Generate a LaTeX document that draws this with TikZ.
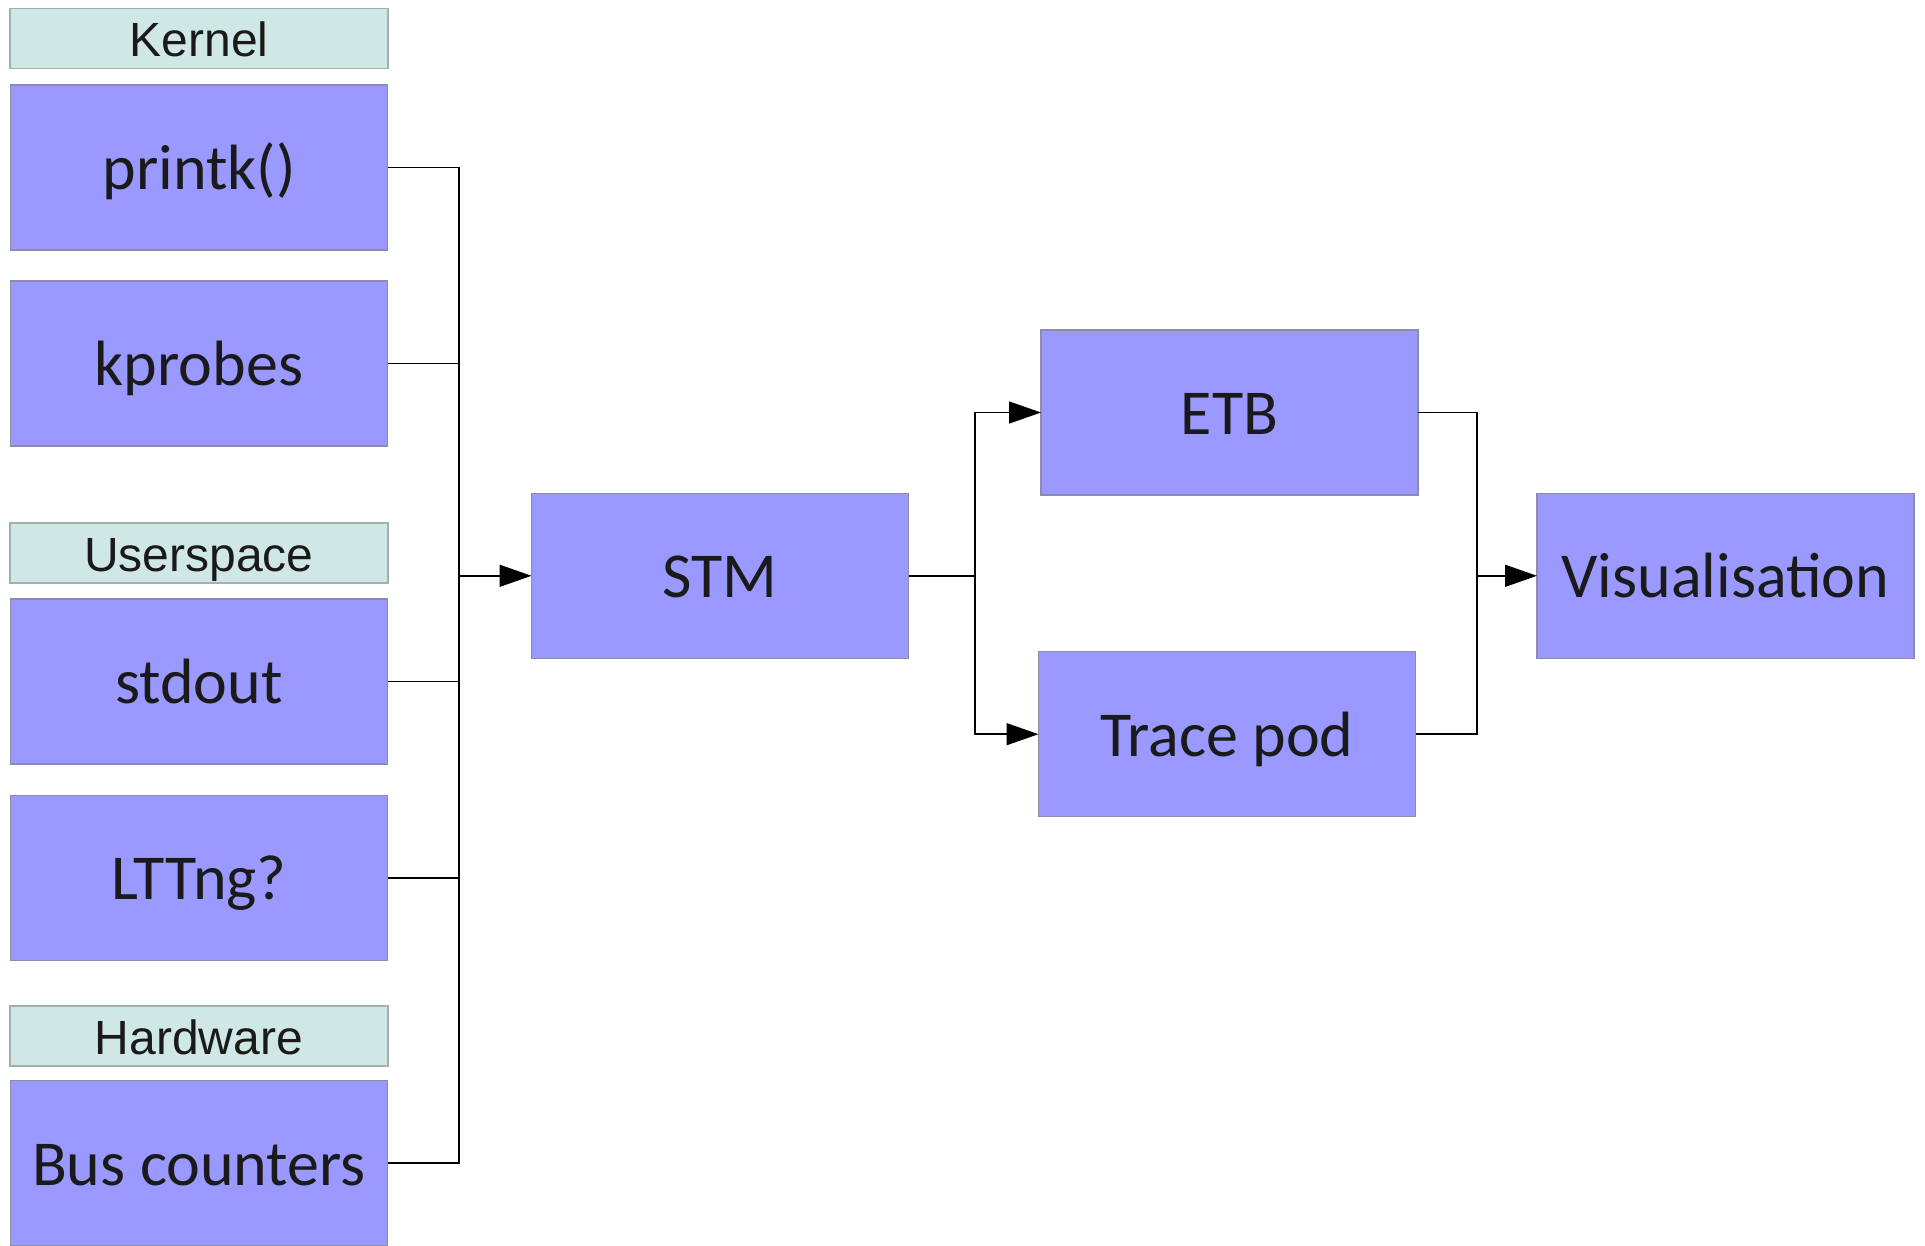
\documentclass[tikz,border=0pt]{standalone}
\usepackage{fontspec}
\setmainfont{Carlito}
\newfontfamily\labelfont{Liberation Sans}
\usetikzlibrary{arrows.meta}

\definecolor{boxfill}{HTML}{9999FF}
\definecolor{boxline}{HTML}{8C8CA8}
\definecolor{tagfill}{HTML}{D0E8E5}
\definecolor{tagline}{HTML}{A6AFAE}
\definecolor{ink}{HTML}{1A1A1A}

\tikzset{
  block/.style={draw=boxline, line width=1.5pt, fill=boxfill, text=ink,
    minimum width=377pt, minimum height=165pt, inner sep=0pt, outer sep=0pt,
    text height=50pt, text depth=6pt,
    font=\fontsize{64pt}{72pt}\selectfont},
  tag/.style={draw=tagline, line width=1.5pt, fill=tagfill, text=ink,
    minimum width=378pt, minimum height=60pt, inner sep=0pt, outer sep=0pt,
    text height=36pt, text depth=0pt,
    font=\labelfont\fontsize{48pt}{54pt}\selectfont},
  wire/.style={draw=black, line width=1.5pt},
  feed/.style={wire, -{Triangle[length=32pt,width=22pt]}}
}

\begin{document}
\begin{tikzpicture}[x=1pt,y=-1pt]
  \useasboundingbox (0,0) rectangle (1925,1246);

  % source groups on the left
  \node[tag]   (kernel)  at (199,38.7)  {Kernel};
  \node[block] (printk)  at (199,167.5) {printk()};
  \node[block] (kprobes) at (199,363.3) {kprobes};
  \node[tag]   (user)    at (199,553)   {Userspace};
  \node[block] (stdout)  at (199,681.3) {stdout};
  \node[block] (lttng)   at (199,877.8) {LTTng?};
  \node[tag]   (hw)      at (199,1036)  {Hardware};
  \node[block] (bus)     at (199,1163)  {Bus counters};

  % pipeline
  \node[block] (stm)  at (720,575.8)    {STM};
  \node[block] (etb)  at (1229.5,412.5) {ETB};
  \node[block] (pod)  at (1227,734.2)   {Trace pod};
  \node[block] (vis)  at (1725.5,575.8) {Visualisation};

  % junction points
  \coordinate (jl) at (459.2,575.8);
  \coordinate (jm) at (974.8,575.8);
  \coordinate (jr) at (1477,575.8);

  % sources merge into STM
  \foreach \src in {printk,kprobes,stdout,lttng,bus}
    \draw[wire] (\src.east) -| (jl);
  \draw[feed] (jl) -- (stm.west);

  % STM fans out to the two sinks
  \draw[wire] (stm.east) -- (jm);
  \draw[feed] (jm) |- (etb.west);
  \draw[feed] (jm) |- (pod.west);

  % sinks merge into visualisation
  \draw[wire] (etb.east) -| (jr);
  \draw[wire] (pod.east) -| (jr);
  \draw[feed] (jr) -- (vis.west);
\end{tikzpicture}
\end{document}
